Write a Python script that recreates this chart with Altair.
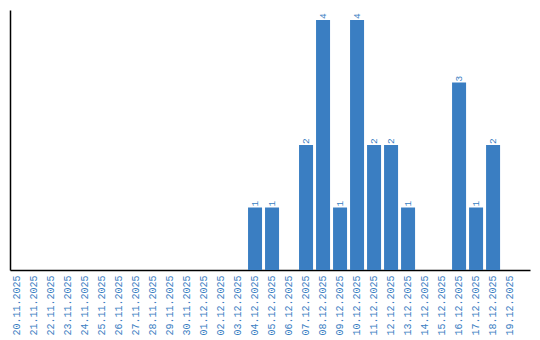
import altair as alt
import pandas as pd

dates = ["20.11.2025", "21.11.2025", "22.11.2025", "23.11.2025", "24.11.2025",
         "25.11.2025", "26.11.2025", "27.11.2025", "28.11.2025", "29.11.2025",
         "30.11.2025", "01.12.2025", "02.12.2025", "03.12.2025", "04.12.2025",
         "05.12.2025", "06.12.2025", "07.12.2025", "08.12.2025", "09.12.2025",
         "10.12.2025", "11.12.2025", "12.12.2025", "13.12.2025", "14.12.2025",
         "15.12.2025", "16.12.2025", "17.12.2025", "18.12.2025", "19.12.2025"]
counts = [0, 0, 0, 0, 0, 0, 0, 0, 0, 0,
          0, 0, 0, 0, 1, 1, 0, 2, 4, 1,
          4, 2, 2, 1, 0, 0, 3, 1, 2, 0]

df = pd.DataFrame({"date": dates, "count": counts})
df["label"] = df["count"].apply(lambda v: str(v) if v > 0 else "")

BLUE = "#3a7ec2"
FONT = "Liberation Mono"

x = alt.X("date:N", sort=dates, title=None,
          scale=alt.Scale(paddingInner=0.176, paddingOuter=0.38, align=0),
          axis=alt.Axis(labelAngle=270, labelAlign="right", labelBaseline="middle",
                        labelColor=BLUE, labelFont=FONT, labelFontSize=10,
                        labelPadding=5, ticks=False, domainColor="black",
                        domainWidth=1.5, grid=False, labelOverlap=False))
y = alt.Y("count:Q", title=None,
          scale=alt.Scale(domain=[0, 4.16], nice=False),
          axis=alt.Axis(labels=False, ticks=False, grid=False,
                        domainColor="black", domainWidth=1.5))

bars = alt.Chart(df).mark_bar(color=BLUE).encode(x=x, y=y)
texts = alt.Chart(df).mark_text(angle=270, align="left", baseline="middle",
                                dx=1, color=BLUE, font=FONT, fontSize=9.5).encode(
    x=alt.X("date:N", sort=dates), y="count:Q", text="label:N")

chart = alt.layer(bars, texts).properties(
    width=520, height=260,
    background="white",
    autosize=alt.AutoSizeParams(type="none"),
    padding={"left": 10, "top": 10, "right": 10, "bottom": 70},
).configure_view(stroke=None, strokeWidth=0)

chart.save("out.html", embed_options={"renderer": "svg", "actions": False})
